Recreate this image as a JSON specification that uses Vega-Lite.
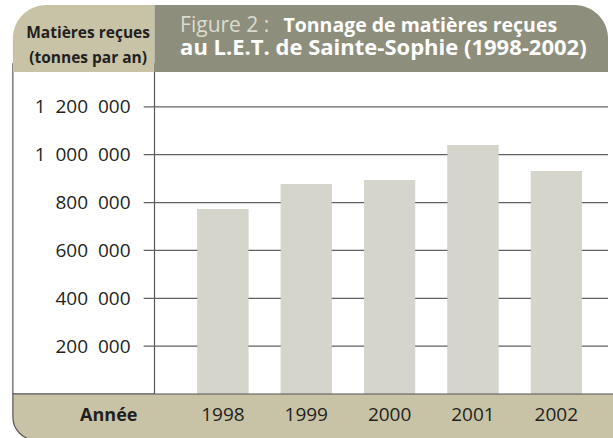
{
  "$schema": "https://vega.github.io/schema/vega-lite/v6.json",
  "autosize": {"type": "fit", "contains": "padding"},
  "width": 613,
  "height": 438,
  "padding": 0,
  "background": "white",
  "config": {"view": {"stroke": null}, "font": "Open Sans"},
  "datasets": {
    "tonnage": [
      {"year": 1998, "tonnes": 773000},
      {"year": 1999, "tonnes": 877500},
      {"year": 2000, "tonnes": 894000},
      {"year": 2001, "tonnes": 1040500},
      {"year": 2002, "tonnes": 932000}
    ],
    "gridticks": [
      {"value": 200000},
      {"value": 400000},
      {"value": 600000},
      {"value": 800000},
      {"value": 1000000},
      {"value": 1200000}
    ],
    "single": [{"k": 1}]
  },
  "layer": [
    {
      "data": {"name": "tonnage"},
      "mark": {"type": "bar", "color": "#d5d5cb", "size": 51},
      "encoding": {
        "x": {"field": "year", "type": "quantitative", "scale": {"domain": [1995.3864, 2002.6195], "nice": false, "zero": false}, "axis": null},
        "y": {
          "field": "tonnes", "type": "quantitative",
          "scale": {"domain": [-183867, 1646447], "nice": false, "zero": false},
          "axis": {
            "orient": "left", "offset": -141, "values": [200000, 400000, 600000, 800000, 1000000, 1200000],
            "domain": false, "ticks": false, "grid": false, "labelPadding": 11,
            "labelFont": "Open Sans", "labelFontSize": 19, "labelColor": "#231f20", "title": null, "zindex": 1,
            "labelExpr": "replace(format(datum.value, ','), regexp(',', 'g'), '\u00a0\u00a0')"
          }
        }
      }
    },
    {
      "data": {"name": "single"},
      "mark": {"type": "rect", "filled": false, "color": "#555555", "strokeWidth": 1.2},
      "encoding": {
        "x": {"datum": 1995.4808, "type": "quantitative"},
        "x2": {"datum": 1997.1799},
        "y": {"datum": 0, "type": "quantitative"},
        "y2": {"datum": 1380000}
      }
    },
    {
      "data": {"name": "gridticks"},
      "mark": {"type": "rule", "color": "#626262", "strokeWidth": 1.2},
      "encoding": {
        "x": {"datum": 1997.0501, "type": "quantitative"},
        "x2": {"datum": 2002.6195},
        "y": {"field": "value", "type": "quantitative"}
      }
    },
    {
      "data": {"name": "tonnage"},
      "mark": {"type": "bar", "color": "#d5d5cb", "size": 51},
      "encoding": {
        "x": {"field": "year", "type": "quantitative"},
        "y": {"field": "tonnes", "type": "quantitative"}
      }
    },
    {
      "data": {"name": "single"},
      "mark": {"type": "rect", "fill": "#c8c3a6", "stroke": "#555555", "strokeWidth": 1.2, "cornerRadiusBottomLeft": 37, "clip": true},
      "encoding": {
        "x": {"datum": 1995.4808, "type": "quantitative"},
        "x2": {"datum": 2002.7},
        "y": {"datum": 0, "type": "quantitative"},
        "y2": {"datum": -192225}
      }
    },
    {
      "data": {"name": "single"},
      "mark": {"type": "rect", "fill": "#c8c3a6", "cornerRadiusTopLeft": 43},
      "encoding": {
        "x": {"datum": 1995.4808, "type": "quantitative"},
        "x2": {"datum": 1997.1799},
        "y": {"datum": 1345574, "type": "quantitative"},
        "y2": {"datum": 1625553}
      }
    },
    {
      "data": {"name": "single"},
      "mark": {"type": "rect", "fill": "#8e8e7c", "cornerRadiusTopRight": 35},
      "encoding": {
        "x": {"datum": 1997.1799, "type": "quantitative"},
        "x2": {"datum": 2002.6195},
        "y": {"datum": 1345574, "type": "quantitative"},
        "y2": {"datum": 1625553}
      }
    },
    {
      "data": {"name": "single"},
      "mark": {"type": "text", "text": "Matières reçues", "font": "Open Sans", "fontWeight": "bold", "fontSize": 15.5, "color": "#231f20", "align": "center", "baseline": "alphabetic"},
      "encoding": {
        "x": {"datum": 1996.3834, "type": "quantitative"},
        "y": {"datum": 1487653, "type": "quantitative"}
      }
    },
    {
      "data": {"name": "single"},
      "mark": {"type": "text", "text": "(tonnes par an)", "font": "Open Sans", "fontWeight": "bold", "fontSize": 15.5, "color": "#231f20", "align": "center", "baseline": "alphabetic"},
      "encoding": {
        "x": {"datum": 1996.3834, "type": "quantitative"},
        "y": {"datum": 1383183, "type": "quantitative"}
      }
    },
    {
      "data": {"name": "single"},
      "mark": {"type": "text", "text": "Figure 2 :", "font": "Open Sans", "fontWeight": "normal", "fontSize": 21, "color": "#dcdbd0", "align": "left", "baseline": "alphabetic"},
      "encoding": {
        "x": {"datum": 1997.4867, "type": "quantitative"},
        "y": {"datum": 1512726, "type": "quantitative"}
      }
    },
    {
      "data": {"name": "single"},
      "mark": {"type": "text", "text": "Tonnage de matières reçues", "font": "Open Sans", "fontWeight": "bold", "fontSize": 19.5, "color": "#ffffff", "align": "left", "baseline": "alphabetic"},
      "encoding": {
        "x": {"datum": 1998.7257, "type": "quantitative"},
        "y": {"datum": 1512726, "type": "quantitative"}
      }
    },
    {
      "data": {"name": "single"},
      "mark": {"type": "text", "text": "au L.E.T. de Sainte-Sophie (1998-2002)", "font": "Open Sans", "fontWeight": "bold", "fontSize": 22, "color": "#ffffff", "align": "left", "baseline": "alphabetic"},
      "encoding": {
        "x": {"datum": 1997.4867, "type": "quantitative"},
        "y": {"datum": 1416613, "type": "quantitative"}
      }
    },
    {
      "data": {"name": "single"},
      "mark": {"type": "text", "text": "Année", "font": "Open Sans", "fontWeight": "bold", "fontSize": 18, "color": "#231f20", "align": "center", "baseline": "alphabetic"},
      "encoding": {
        "x": {"datum": 1996.6313, "type": "quantitative"},
        "y": {"datum": -112828, "type": "quantitative"}
      }
    },
    {
      "data": {"name": "tonnage"},
      "mark": {"type": "text", "font": "Open Sans", "fontSize": 19, "color": "#231f20", "align": "center", "baseline": "alphabetic"},
      "encoding": {
        "x": {"field": "year", "type": "quantitative"},
        "y": {"datum": -112828, "type": "quantitative"},
        "text": {"field": "year", "type": "nominal"}
      }
    }
  ]
}
